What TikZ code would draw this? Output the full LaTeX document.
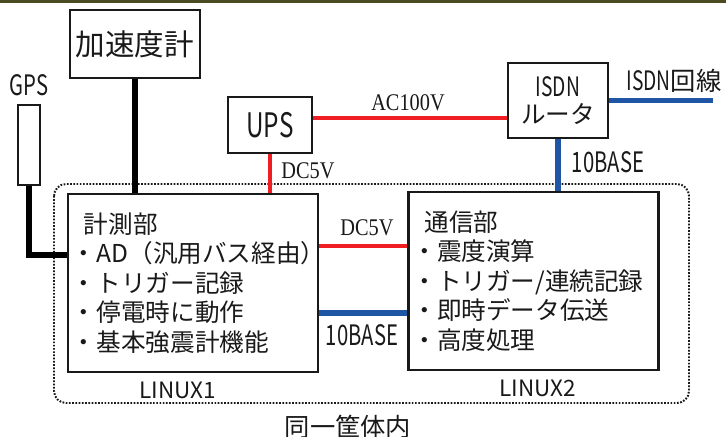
\documentclass[tikz,border=0pt]{standalone}
\usepackage{fontspec}
\setmainfont{Noto Sans CJK JP}
\newfontfamily\narrowsans[FakeStretch=0.72]{Noto Sans CJK JP}
\newfontfamily\narrowserif[FakeStretch=0.85]{Liberation Serif}
\usetikzlibrary{positioning}
\definecolor{pwrred}{RGB}{240,30,35}
\definecolor{netblue}{RGB}{30,85,165}
\definecolor{topband}{RGB}{75,75,35}

\begin{document}
\begin{tikzpicture}[x=0.025cm, y=-0.025cm,
  box/.style={draw=black!90, line width=1.8pt, inner sep=0pt, text=black!90},
  unit/.style={box, minimum width=6.25cm, minimum height=4.45cm,
               text width=6.05cm, inner xsep=0.1cm, align=left,
               font=\fontsize{17.5}{21}\selectfont},
  lbl/.style={inner sep=0pt, text=black!90},
  sig/.style={line width=4.3pt, draw=black},
  pwr/.style={line width=2.9pt, draw=pwrred},
  net/.style={line width=4.2pt, draw=netblue},
  node distance=0.2cm
]
  \path[use as bounding box] (0,0) rectangle (726,436);
  \clip (0,0) rectangle (726,436);
  \fill[topband] (0,0) rectangle (726,2.5);

  % same-case enclosure
  \draw[black!90, line width=1.4pt, dash pattern=on 1.2pt off 1.1pt,
        rounded corners=0.3cm] (54,184) rectangle (689,403);

  % devices
  \node[box, minimum width=3.25cm, minimum height=1.7cm,
        font=\fontsize{21}{21}\selectfont] (accel) at (135,44) {加速度計};
  \node[box, line width=1.4pt, minimum width=0.55cm, minimum height=2cm] (gps) at (29,145) {};
  \node[lbl, above=of gps, font=\narrowsans\fontsize{20}{20}\selectfont] (gpslbl) {GPS};
  \node[box, minimum width=2.1cm, minimum height=1.4cm,
        font=\narrowsans\fontsize{24}{24}\selectfont] (ups) at (270,125) {UPS};
  \node[box, minimum width=2.5cm, minimum height=1.875cm, align=center,
        font=\fontsize{17.5}{19}\selectfont] (router) at (558,100.5)
        {{\narrowsans\fontsize{19}{19}\selectfont ISDN}\\ルータ};
  \coordinate (lineend) at (713,100.5);

  % the two boards
  \node[unit] (meas) at (193,283)
    {\hspace*{0.3cm}計測部\\・AD（汎用バス経由）\\・トリガー記録\\・停電時に動作\\・基本強震計機能};
  \node[unit] (comm) at (533.5,281)
    {\hspace*{0.3cm}通信部\\・震度演算\\・トリガー/連続記録\\・即時データ伝送\\・高度処理};
  \node[lbl, below=of meas, xshift=-0.375cm, font=\fontsize{16}{16}\selectfont] (measlbl) {LINUX1};
  \node[lbl, below=of comm, xshift=0.1cm, font=\fontsize{16}{16}\selectfont] (commlbl) {LINUX2};

  % wiring
  \draw[sig] (accel) -- (accel |- meas.north);
  \draw[sig] (gps) |- ([yshift=0.7cm]meas.west);
  \draw[pwr] (ups) -- (ups |- meas.north);
  \draw[pwr] ([yshift=0.175cm]ups.east) -- ([yshift=0.175cm]ups.east -| router.west);
  \draw[net] (router) -- (router |- comm.north);
  \draw[net] (router) -- (lineend);
  \draw[pwr] ([yshift=0.925cm]meas.east) -- ([yshift=0.925cm]meas.east -| comm.west);
  \draw[net] ([yshift=-0.75cm]meas.east) -- ([yshift=-0.75cm]meas.east -| comm.west);

  % wire labels
  \node[lbl, font=\narrowserif\fontsize{17}{17}\selectfont] (aclbl) at (408,103) {AC100V};
  \node[lbl, font=\narrowserif\fontsize{17}{17}\selectfont] (dcuplbl) at (308,171) {DC5V};
  \node[lbl, font=\narrowserif\fontsize{17}{17}\selectfont] (dcmidlbl) at (367,228) {DC5V};
  \node[lbl, font=\narrowsans\fontsize{20}{20}\selectfont] (netuplbl) at (608,162) {10BASE};
  \node[lbl, font=\narrowsans\fontsize{20}{20}\selectfont] (netmidlbl) at (362,335) {10BASE};
  \node[lbl, font=\fontsize{18}{18}\selectfont] (isdnlbl) at (674,81)
        {{\narrowsans\fontsize{19}{19}\selectfont ISDN}回線};
  \node[lbl, font=\fontsize{18}{18}\selectfont] (caselbl) at (348,427) {同一筐体内};
\end{tikzpicture}
\end{document}
